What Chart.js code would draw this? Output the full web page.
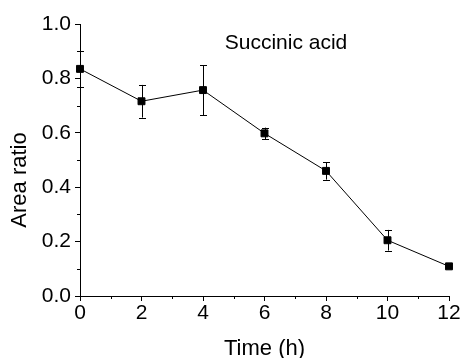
<!DOCTYPE html>
<html>
<head>
<meta charset="utf-8">
<script src="https://cdn.jsdelivr.net/npm/chart.js@4.4.1/dist/chart.umd.min.js"></script>
<style>
  html, body { margin: 0; padding: 0; background: #fff; }
  #wrap { width: 463px; height: 358px; }
</style>
</head>
<body>
<div id="wrap"><canvas id="areaChart"></canvas></div>
<script>
// Succinic acid area ratio over time
const hours = [0, 2, 4, 6, 8, 10, 12];
const areaRatio = [0.835, 0.716, 0.757, 0.598, 0.460, 0.205, 0.109];
const areaError = [0.065, 0.060, 0.092, 0.021, 0.032, 0.038, 0.0];
const xMinorTicks = [1, 3, 5, 7, 9, 11];
const yMinorTicks = [0.1, 0.3, 0.5, 0.7, 0.9];

const fontFamily = '"Liberation Sans", Arial, sans-serif';

// error bars behind the markers
const errorBarPlugin = {
  id: 'errorBars',
  beforeDatasetsDraw(chart) {
    const ctx = chart.ctx;
    const xs = chart.scales.x;
    const ys = chart.scales.y;
    ctx.save();
    ctx.strokeStyle = '#000';
    ctx.lineWidth = 1;
    for (let i = 0; i < hours.length; i++) {
      if (!areaError[i]) continue;
      const x = Math.round(xs.getPixelForValue(hours[i])) + 0.5;
      const top = ys.getPixelForValue(areaRatio[i] + areaError[i]);
      const bot = ys.getPixelForValue(areaRatio[i] - areaError[i]);
      ctx.beginPath();
      ctx.moveTo(x, top);
      ctx.lineTo(x, bot);
      ctx.moveTo(x - 3.5, Math.round(top) + 0.5);
      ctx.lineTo(x + 3.5, Math.round(top) + 0.5);
      ctx.moveTo(x - 3.5, Math.round(bot) + 0.5);
      ctx.lineTo(x + 3.5, Math.round(bot) + 0.5);
      ctx.stroke();
    }
    ctx.restore();
  }
};

// minor ticks, y axis title and the label inside the plot
const extrasPlugin = {
  id: 'extras',
  afterDraw(chart) {
    const ctx = chart.ctx;
    const xs = chart.scales.x;
    const ys = chart.scales.y;
    const area = chart.chartArea;
    ctx.save();
    ctx.strokeStyle = '#000';
    ctx.lineWidth = 1;
    ctx.beginPath();
    xMinorTicks.forEach(v => {
      const x = Math.round(xs.getPixelForValue(v)) + 0.5;
      ctx.moveTo(x, area.bottom);
      ctx.lineTo(x, area.bottom + 3);
    });
    yMinorTicks.forEach(v => {
      const y = Math.round(ys.getPixelForValue(v)) + 0.5;
      ctx.moveTo(area.left, y);
      ctx.lineTo(area.left - 3, y);
    });
    ctx.stroke();

    ctx.fillStyle = '#000';
    ctx.font = '21px ' + fontFamily;
    ctx.textAlign = 'center';
    ctx.textBaseline = 'middle';
    ctx.fillText('Succinic acid', xs.getPixelForValue(6.7), ys.getPixelForValue(0.93));

    ctx.font = '22px ' + fontFamily;
    ctx.translate(20, (area.top + area.bottom) / 2 + 20);
    ctx.rotate(-Math.PI / 2);
    ctx.fillText('Area ratio', 0, 0);
    ctx.restore();
  }
};

new Chart(document.getElementById('areaChart'), {
  type: 'scatter',
  data: {
    datasets: [{
      data: hours.map((h, i) => ({ x: h, y: areaRatio[i] })),
      showLine: true,
      borderColor: '#000',
      borderWidth: 1,
      backgroundColor: '#000',
      pointStyle: 'rect',
      pointRadius: 4.9,
      pointHoverRadius: 4.9,
      clip: false
    }]
  },
  options: {
    responsive: true,
    maintainAspectRatio: false,
    animation: false,
    events: [],
    layout: { padding: { left: 0, right: 14, top: 24, bottom: 0 } },
    plugins: { legend: { display: false }, tooltip: { enabled: false } },
    scales: {
      x: {
        type: 'linear',
        min: 0,
        max: 12,
        afterFit(scale) { scale.height = 62; },
        border: { display: true, color: '#000', width: 1 },
        grid: { drawOnChartArea: false, drawTicks: true, tickLength: 5, color: '#000' },
        ticks: {
          stepSize: 2,
          padding: 0,
          color: '#000',
          font: { family: fontFamily, size: 21 },
          maxRotation: 0
        },
        title: {
          display: true,
          text: 'Time (h)',
          color: '#000',
          font: { family: fontFamily, size: 22, lineHeight: 0.8 },
          padding: { top: 0, bottom: 0 }
        }
      },
      y: {
        min: 0,
        max: 1,
        afterFit(scale) { scale.width = 80; },
        border: { display: true, color: '#000', width: 1 },
        grid: { drawOnChartArea: false, drawTicks: true, tickLength: 5, color: '#000' },
        ticks: {
          stepSize: 0.2,
          padding: 4,
          color: '#000',
          font: { family: fontFamily, size: 21 },
          callback: v => v.toFixed(1)
        }
      }
    }
  },
  plugins: [errorBarPlugin, extrasPlugin]
});
</script>
</body>
</html>
